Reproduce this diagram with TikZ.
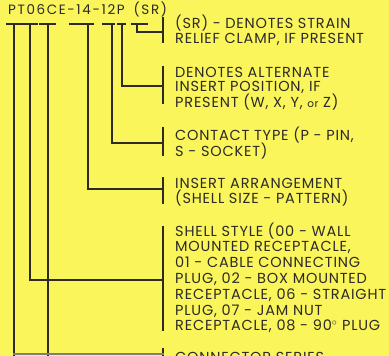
\documentclass[tikz,border=0pt]{standalone}
\usepackage{fontspec}
\setmainfont{Poppins}[FakeStretch=1.0,LetterSpace=5.5]
\definecolor{paper}{RGB}{250,245,90}
\definecolor{ink}{RGB}{45,42,40}
\tikzset{
  wire/.style={draw=ink,line width=2.4pt,line cap=rect},
  lbl/.style={anchor=base west,inner sep=0pt,text=ink,
    font=\fontsize{14.5}{16}\selectfont},
  ttl/.style={anchor=base west,inner sep=0pt,text=ink,
    font=\fontsize{13.5}{14}\selectfont\addfontfeatures{LetterSpace=12}}
}
\newcommand\textblock[5]{%
  \foreach \t [count=\i from 0] in {#5}{%
    \node[lbl] (#1\i) at (#2,{#3+\i*#4}) {\t};}}
\begin{document}
\begin{tikzpicture}[x=1pt,y=-1pt]
\fill[paper] (0,0) rectangle (389,356);
\useasboundingbox (0,0) rectangle (389,356);
% title
\node[ttl] (title) at (8,14) {PT06CE-14-12P\hspace{9pt}(SR)};
% labels
\textblock{sr}{175}{28}{15}{{(SR) - DENOTES STRAIN},{RELIEF CLAMP, IF PRESENT}}
\textblock{alt}{175}{77}{15}{{DENOTES ALTERNATE},{INSERT POSITION, IF},{PRESENT (W, X, Y, {\fontsize{10.5}{12}\selectfont or} Z)}}
\textblock{ct}{175}{140}{16}{{CONTACT TYPE (P - PIN,},{S - SOCKET)}}
\textblock{ia}{175}{188}{15.5}{{INSERT ARRANGEMENT},{(SHELL SIZE - PATTERN)}}
\textblock{ss}{175}{236}{15.8}{{SHELL STYLE (00 - WALL},{MOUNTED RECEPTACLE,},{01 - CABLE CONNECTING},{PLUG, 02 - BOX MOUNTED},{RECEPTACLE, 06 - STRAIGHT},{PLUG, 07 - JAM NUT},{RECEPTACLE, 08 - 90$^{\circ}$ PLUG}}
\textblock{cs}{175}{362}{15}{{CONNECTOR SERIES}}
% tee tops
\foreach \n/\a/\b/\s in {t1/7/21/14, t2/23/37/30, t3/40/55/48, t4/70/93/88, t5/103/114/112, t6/118/125/122, t7/132/147/137}{
  \coordinate (\n l) at (\a,24);
  \coordinate (\n r) at (\b,24);
  \coordinate (\n) at (\s,24);
  \draw[wire] (\n l) -- (\n r);
}
% marker bars
\coordinate (m7a) at (163,18);  \coordinate (m7b) at (163,42);
\coordinate (m6a) at (163,67);  \coordinate (m6b) at (163,103);
\coordinate (m5a) at (163,128); \coordinate (m5b) at (163,155);
\coordinate (m4a) at (163,178); \coordinate (m4b) at (163,203);
\coordinate (m2a) at (163,227); \coordinate (m2b) at (163,330);
\coordinate (m1a) at (163,349); \coordinate (m1b) at (163,370);
\foreach \m in {7,6,5,4,2,1}{\draw[wire] (m\m a) -- (m\m b);}
% connectors
\draw[wire] (t7) |- (163,32);
\draw[wire] (t6) |- (163,86);
\draw[wire] (t5) |- (163,143);
\draw[wire] (t4) |- (163,189);
\draw[wire] (t2) |- (163,280);
\draw[wire] (t1) -- (14,370);
\draw[wire] (t3) -- (48,370);
\draw[wire,draw=ink!60] (14,354) -- (163,354);
\end{tikzpicture}
\end{document}
